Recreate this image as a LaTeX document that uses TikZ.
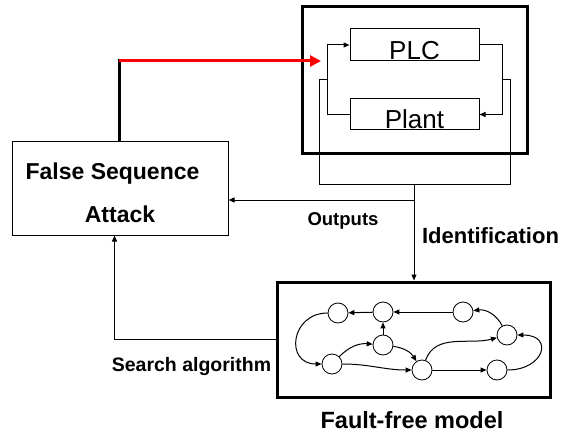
\documentclass[tikz,border=0pt]{standalone}
\usepackage{fontspec}
\setmainfont{Liberation Sans}
\usetikzlibrary{arrows.meta}
\definecolor{attack}{HTML}{FF0000}
\tikzset{
  blk/.style={draw, line width=1pt, inner sep=0pt},
  frame/.style={draw, line width=3pt, inner sep=0pt},
  st/.style={draw, circle, line width=0.8pt, minimum size=20pt, inner sep=0pt},
  wire/.style={line width=1pt, -{Triangle[length=6pt,width=5pt]}},
  lbl/.style={font=\fontsize{18.5}{22}\selectfont\bfseries, inner sep=0pt, anchor=base}
}

\begin{document}
\begin{tikzpicture}[x=1pt, y=1pt]
    \useasboundingbox (0,0) rectangle (578,440);
    \node[frame, minimum width=225pt, minimum height=146pt] (sys) at (414.5,360) {};
    \node[blk, minimum width=129pt, minimum height=32pt, font=\fontsize{26}{30}\selectfont,
          text height=30pt, text depth=0pt] (plc) at (414.5,395) {PLC};
    \node[blk, minimum width=129pt, minimum height=31pt, font=\fontsize{26}{30}\selectfont,
          text height=27pt, text depth=0pt] (plant) at (414.5,325.5) {Plant};
    \node[blk, minimum width=216pt, minimum height=94pt, align=center,
          font=\fontsize{23}{43}\selectfont\bfseries] (fsa) at (120,252)
      {False Sequence\hspace*{15pt}\rule{0pt}{27pt}\\Attack};
    \node[frame, minimum width=273pt, minimum height=115pt] (model) at (413.5,100.5) {};

    \draw[wire] (plant.west) -- ++(-22,0) |- (plc.west);
    \draw[wire] (plc.east) -- ++(23,0) |- (plant.east);

    \coordinate (tapL) at (328,360);
    \coordinate (tapR) at (502,360);
    \coordinate (bus) at (414,256);
    \coordinate (out) at (414,240);
    \draw[line width=1pt] (tapL) -- ++(-9,0) -- ++(0,-104) -- ++(191,0) -- ++(0,104) -- (tapR);
    \draw[wire] (bus) -- (bus |- model.north);
    \draw[wire] (out) -- (out -| fsa.east);
    \draw[wire] (model.west) -| ([xshift=-5.5pt]fsa.south);

    \coordinate (kink) at (119,379);
    \coordinate (hit) at (321,379);
    \draw[line width=3pt] (kink |- fsa.north) -- ([yshift=1.5pt]kink);
    \draw[attack, line width=3pt, -{Triangle[length=11pt,width=11pt]}] (kink) -- (hit);

    \node[st] (n1) at (338,127) {};
    \node[st] (n2) at (383,128) {};
    \node[st] (n3) at (463,128) {};
    \node[st] (n4) at (507,105) {};
    \node[st] (n5) at (383,95) {};
    \node[st] (n6) at (332,76) {};
    \node[st] (n7) at (422,70) {};
    \node[st] (n8) at (497,70) {};
    \draw[wire] (n2) -- (n1);
    \draw[wire] (n3) -- (n2);
    \draw[wire] (n4) to[bend right=35] (n3);
    \draw[wire] (n5) -- (n2);
    \draw[wire] (n1) to[out=180, in=180, looseness=1.85] (n6);
    \draw[wire] (n6) to[bend left=25] (n5);
    \draw[wire] (n5) to[bend left=25] (n7);
    \draw[wire] (n6) to[out=0, in=180] (n7);
    \draw[wire] (n7) to[out=70, in=195] (n4);
    \draw[wire] (n7) -- (n8);
    \draw[wire] (n8) to[out=0, in=0, looseness=2.6] (n4);

    \node[lbl] (outputs) at (343,214.3) {Outputs};
    \node[lbl, font=\fontsize{22}{26}\selectfont\bfseries] (ident) at (490.5,197) {Identification};
    \node[lbl, font=\fontsize{19.5}{23}\selectfont\bfseries] (search) at (191.5,68.3) {Search algorithm};
    \node[lbl, font=\fontsize{23.5}{27}\selectfont\bfseries] (ffm) at (412,12) {Fault-free model};
\end{tikzpicture}
\end{document}
